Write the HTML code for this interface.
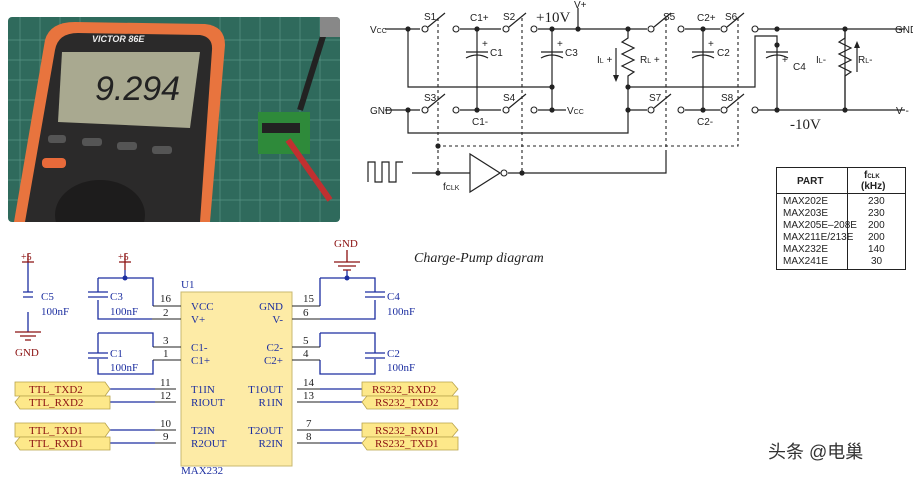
<!DOCTYPE html>
<html><head><meta charset="utf-8"><style>
html,body{margin:0;padding:0;background:#fff;width:913px;height:477px;overflow:hidden}
svg{display:block}
.t{font-family:"Liberation Sans",sans-serif;font-size:10px;fill:#222}
.s{font-family:"Liberation Serif",serif;font-size:11px}
</style></head><body>
<svg width="913" height="477" viewBox="0 0 913 477" xmlns="http://www.w3.org/2000/svg">
<!-- photo -->
<defs><clipPath id="ph"><rect x="8" y="17" width="332" height="205" rx="4"/></clipPath></defs>
<g clip-path="url(#ph)">
<rect x="8" y="17" width="332" height="205" fill="#2f6a5c"/>
<g stroke="#6aa596" stroke-width="0.7" opacity="0.7">
<path d="M20 17V222M40 17V222M60 17V222M80 17V222M220 17V222M240 17V222M260 17V222M280 17V222M300 17V222M320 17V222M8 40H340M8 60H340M8 80H340M8 100H340M8 120H340M8 140H340M8 160H340M8 180H340M8 200H340"/>
</g>
<path d="M14 222 L45 40 Q50 22 75 22 L205 24 Q225 26 225 45 L210 222Z" fill="#e8743e"/>
<path d="M25 222 L55 50 Q58 33 78 33 L200 35 Q213 37 212 50 L200 222Z" fill="#2b2a2a"/>
<path d="M62 52 L200 52 L190 128 L58 122Z" fill="#a9a990"/>
<text x="95" y="100" font-family="Liberation Sans,sans-serif" font-size="34" fill="#222" font-style="italic">9.294</text>
<text x="92" y="42" font-family="Liberation Sans,sans-serif" font-size="9" fill="#eee" font-style="italic" font-weight="bold">VICTOR 86E</text>
<ellipse cx="100" cy="215" rx="45" ry="35" fill="#1d1c1c"/>
<rect x="48" y="135" width="18" height="8" rx="3" fill="#555"/><rect x="82" y="138" width="20" height="8" rx="3" fill="#555"/><rect x="117" y="142" width="20" height="8" rx="3" fill="#555"/><rect x="152" y="146" width="20" height="8" rx="3" fill="#555"/>
<rect x="42" y="158" width="24" height="10" rx="4" fill="#e86a3a"/>
<rect x="258" y="112" width="52" height="42" fill="#2e8a3a"/>
<rect x="262" y="123" width="38" height="10" fill="#222"/>
<path d="M288 140 L330 200" stroke="#c03030" stroke-width="6"/>
<path d="M300 110 L325 30" stroke="#222" stroke-width="6"/>
<rect x="320" y="17" width="20" height="20" fill="#888"/>
</g>
<!-- charge pump -->
<g stroke="#222" stroke-width="1.2" fill="none">
<path d="M385 29H408M408 29H420M460 29H501M538 29H647M685 29H720M758 29H905"/>
<path d="M385 110H420M460 110H501M538 110H566M628 110H647M685 110H720M758 110H905"/>
<path d="M408 29V87H552M552 29V110M477 29V110M408 110V133H628V87M628 87H755V36H777V110M703 29V110M845 29V110"/>
<path d="M578 29V8"/>
<path d="M628 29V38L622 42L634 48L622 54L634 60L622 66L634 72L628 76V87"/>
<path d="M845 29V38L839 42L851 48L839 54L851 60L839 66L851 72L845 76V110"/>
<path d="M428 27L445 13M509 27L526 13M654 27L671 13M727 27L744 13M428 108L445 94M509 108L526 94M654 108L671 94M727 108L744 94"/>
<path d="M368 182V162H375V182H382V162H389V182H396V162H403"/>
<path d="M412 173H470M508 173H666V150"/>
<path d="M470 154V192L500 173Z"/>
<path d="M466 52H488M466 58Q477 52 488 58M541 52H563M541 58Q552 52 563 58M692 52H714M692 58Q703 52 714 58M766 52H788M766 58Q777 52 788 58"/>
<path d="M616 48V75M857 46V72"/>
</g>
<g stroke="#222" stroke-width="1.1" fill="none" stroke-dasharray="3,3">
<path d="M438 18V173M522 18V173M666 18V150M738 18V146H438"/>
</g>
<g fill="#fff" stroke="#222" stroke-width="1.1">
<circle cx="425" cy="29" r="3"/><circle cx="456" cy="29" r="3"/><circle cx="506" cy="29" r="3"/><circle cx="534" cy="29" r="3"/><circle cx="651" cy="29" r="3"/><circle cx="681" cy="29" r="3"/><circle cx="724" cy="29" r="3"/><circle cx="755" cy="29" r="3"/>
<circle cx="425" cy="110" r="3"/><circle cx="456" cy="110" r="3"/><circle cx="506" cy="110" r="3"/><circle cx="534" cy="110" r="3"/><circle cx="651" cy="110" r="3"/><circle cx="681" cy="110" r="3"/><circle cx="724" cy="110" r="3"/><circle cx="755" cy="110" r="3"/>
<circle cx="504" cy="173" r="3"/>
</g>
<g fill="#222">
<circle cx="408" cy="29" r="2.6"/><circle cx="477" cy="29" r="2.6"/><circle cx="552" cy="29" r="2.6"/><circle cx="578" cy="29" r="2.6"/><circle cx="628" cy="29" r="2.6"/><circle cx="703" cy="29" r="2.6"/><circle cx="777" cy="29" r="2.6"/><circle cx="845" cy="29" r="2.6"/>
<circle cx="408" cy="110" r="2.6"/><circle cx="477" cy="110" r="2.6"/><circle cx="552" cy="110" r="2.6"/><circle cx="628" cy="110" r="2.6"/><circle cx="703" cy="110" r="2.6"/><circle cx="777" cy="110" r="2.6"/><circle cx="845" cy="110" r="2.6"/>
<circle cx="552" cy="87" r="2.6"/><circle cx="628" cy="87" r="2.6"/><circle cx="777" cy="45" r="2.6"/>
<circle cx="438" cy="146" r="2.6"/><circle cx="438" cy="173" r="2.6"/><circle cx="522" cy="173" r="2.6"/>
<path d="M613 75L616 82L619 75Z"/><path d="M854 48L857 41L860 48Z"/>
</g>
<g class="t">
<text x="370" y="33">V<tspan font-size="7">CC</tspan></text>
<text x="370" y="114">GND</text>
<text x="424" y="20">S1</text><text x="470" y="21">C1+</text><text x="503" y="20">S2</text>
<text x="663" y="20">S5</text><text x="697" y="21">C2+</text><text x="725" y="20">S6</text>
<text x="424" y="101">S3</text><text x="503" y="101">S4</text><text x="649" y="101">S7</text><text x="721" y="101">S8</text>
<text x="472" y="125">C1-</text><text x="697" y="125">C2-</text>
<text x="574" y="8">V+</text>
<text x="567" y="114">V<tspan font-size="7">CC</tspan></text>
<text x="490" y="56">C1</text><text x="565" y="56">C3</text><text x="717" y="56">C2</text><text x="793" y="70">C4</text>
<text x="482" y="47">+</text><text x="557" y="47">+</text><text x="708" y="47">+</text><text x="782" y="63">+</text>
<text x="597" y="63">I<tspan font-size="7">L</tspan> +</text>
<text x="640" y="63">R<tspan font-size="7">L</tspan> +</text>
<text x="816" y="63">I<tspan font-size="7">L</tspan>-</text>
<text x="858" y="63">R<tspan font-size="7">L</tspan>-</text>
<text x="895" y="33">GND</text><text x="896" y="114">V -</text>
<text x="443" y="190">f<tspan font-size="7">CLK</tspan></text>
</g>
<text x="536" y="22" font-family="Liberation Serif,serif" font-size="15" fill="#222">+10V</text>
<text x="790" y="129" font-family="Liberation Serif,serif" font-size="15" fill="#222">-10V</text>
<!-- table -->
<g stroke="#222" fill="none"><rect x="776.5" y="167.5" width="129" height="102"/><path d="M776 193.5H906M847.5 167V270"/></g>
<g class="t" font-size="8.5">
<text x="797" y="184" font-weight="bold">PART</text>
<text x="864" y="178" font-weight="bold">f<tspan font-size="6">CLK</tspan></text>
<text x="861" y="189" font-weight="bold">(kHz)</text>
<text x="783" y="204">MAX202E</text><text x="783" y="216">MAX203E</text><text x="783" y="228">MAX205E–208E</text><text x="783" y="240">MAX211E/213E</text><text x="783" y="252">MAX232E</text><text x="783" y="264">MAX241E</text>
<text x="868" y="204">230</text><text x="868" y="216">230</text><text x="868" y="228">200</text><text x="868" y="240">200</text><text x="868" y="252">140</text><text x="871" y="264">30</text>
</g>
<text x="414" y="262" font-family="Liberation Serif,serif" font-size="14" font-style="italic" fill="#222">Charge-Pump diagram</text>
<!-- schematic -->
<rect x="181" y="292" width="111" height="174" fill="#fdeba6" stroke="#c9b870"/>
<g stroke="#1c2ea0" stroke-width="1.3" fill="none">
<path d="M28 262V292M28 312V332M23 292H33M23 297H33"/>
<path d="M98 278H153V306M98 278V292M98 300V319H152M98 292H88M88 292H108M88 297H108"/>
<path d="M125 270V278"/>
<path d="M98 333H153V347M98 333V353M98 359V374H153V360M88 353H108M88 358H108"/>
<path d="M320 278H375V292M375 300V319H320V319M320 278V306M365 292H385M365 297H385M347 270V278"/>
<path d="M320 333H375V353M375 359V374H320V360M320 333V347M365 353H385M365 358H385"/>
<path d="M110 389H155M110 402H155M110 430H155M110 443H155M320 389H362M320 402H362M320 430H362M320 443H362"/>
</g>
<g stroke="#222" stroke-width="1.1" fill="none">
<path d="M153 306H181M152 319H181M153 347H181M153 360H181M292 306H320M292 319H320M292 347H320M292 360H320"/>
<path d="M155 389H176M155 402H176M155 430H176M155 443H176M297 389H320M297 402H320M297 430H320M297 443H320"/>
</g>
<g fill="#1c2ea0"><circle cx="125" cy="278" r="2.5"/><circle cx="347" cy="278" r="2.5"/></g>
<g stroke="#8b1010" stroke-width="1.3" fill="none">
<path d="M22 262H34M119 262H131M28 254V262M125 254V270"/>
<path d="M15 332H41M20 336H36M25 340H31"/>
<path d="M334 262H360M338 266H356M343 270H351M347 250V262"/>
</g>
<g class="s" fill="#8b1010">
<text x="21" y="260" font-size="10">+5</text><text x="118" y="260" font-size="10">+5</text>
<text x="15" y="356">GND</text><text x="334" y="247">GND</text>
</g>
<g class="s" fill="#1c2ea0">
<text x="41" y="300">C5</text><text x="41" y="315">100nF</text>
<text x="110" y="300">C3</text><text x="110" y="315">100nF</text>
<text x="110" y="357">C1</text><text x="110" y="371">100nF</text>
<text x="387" y="300">C4</text><text x="387" y="315">100nF</text>
<text x="387" y="357">C2</text><text x="387" y="371">100nF</text>
<text x="181" y="288">U1</text><text x="181" y="474">MAX232</text>
</g>
<g class="s" fill="#222">
<text x="160" y="302">16</text><text x="163" y="316">2</text><text x="163" y="344">3</text><text x="163" y="357">1</text>
<text x="160" y="386">11</text><text x="160" y="399">12</text><text x="160" y="427">10</text><text x="163" y="440">9</text>
<text x="303" y="302">15</text><text x="303" y="316">6</text><text x="303" y="344">5</text><text x="303" y="357">4</text>
<text x="303" y="386">14</text><text x="303" y="399">13</text><text x="306" y="427">7</text><text x="306" y="440">8</text>
</g>
<g class="s" fill="#1c2ea0" font-size="12">
<text x="191" y="310">VCC</text><text x="191" y="323">V+</text><text x="191" y="351">C1-</text><text x="191" y="364">C1+</text>
<text x="191" y="393">T1IN</text><text x="191" y="406">RIOUT</text><text x="191" y="434">T2IN</text><text x="191" y="447">R2OUT</text>
<text x="283" y="310" text-anchor="end">GND</text><text x="283" y="323" text-anchor="end">V-</text><text x="283" y="351" text-anchor="end">C2-</text><text x="283" y="364" text-anchor="end">C2+</text>
<text x="283" y="393" text-anchor="end">T1OUT</text><text x="283" y="406" text-anchor="end">R1IN</text><text x="283" y="434" text-anchor="end">T2OUT</text><text x="283" y="447" text-anchor="end">R2IN</text>
</g>
<g fill="#fde88a" stroke="#b8a24a" stroke-width="0.8">
<path d="M15 382H105L110 389L105 396H15Z"/><path d="M20 396H110V409H20L15 402Z"/>
<path d="M15 423H105L110 430L105 437H15Z"/><path d="M20 437H110V450H20L15 443Z"/>
<path d="M362 382H452L458 389L452 396H362Z"/><path d="M367 396H458V409H367L362 402Z"/>
<path d="M362 423H452L458 430L452 437H362Z"/><path d="M367 437H458V450H367L362 443Z"/>
</g>
<g class="s" fill="#8b1010" font-size="12">
<text x="29" y="393">TTL_TXD2</text><text x="29" y="406">TTL_RXD2</text><text x="29" y="434">TTL_TXD1</text><text x="29" y="447">TTL_RXD1</text>
<text x="372" y="393">RS232_RXD2</text><text x="375" y="406">RS232_TXD2</text><text x="375" y="434">RS232_RXD1</text><text x="375" y="447">RS232_TXD1</text>
</g>
<text x="768" y="458" font-family="Liberation Sans,'Noto Sans CJK SC',sans-serif" font-size="18" fill="#333">头条 @电巢</text>
</svg>
</body></html>
